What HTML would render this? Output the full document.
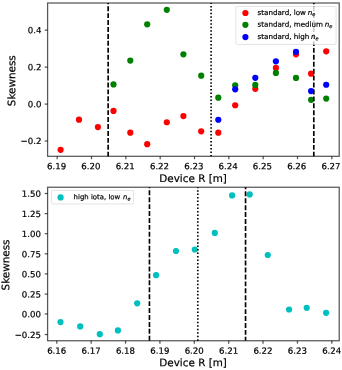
<!DOCTYPE html>
<html><head><meta charset="utf-8"><title>Skewness</title>
<style>html,body{margin:0;padding:0;background:#fff}svg{display:block;will-change:transform;opacity:0.999}text{stroke:#000;stroke-width:0.2px;font-family:"DejaVu Sans","Liberation Sans",sans-serif;fill:#000}</style></head><body>
<svg width="342" height="370" viewBox="0 0 342 370">
<rect width="342" height="370" fill="#fff"/>
<circle cx="60.6" cy="149.85" r="3.1" fill="#ff0000"/>
<circle cx="79.0" cy="119.65" r="3.1" fill="#ff0000"/>
<circle cx="97.9" cy="127.05" r="3.1" fill="#ff0000"/>
<circle cx="113.5" cy="110.95" r="3.1" fill="#ff0000"/>
<circle cx="130.3" cy="132.65" r="3.1" fill="#ff0000"/>
<circle cx="147.2" cy="144.15" r="3.1" fill="#ff0000"/>
<circle cx="166.8" cy="122.25" r="3.1" fill="#ff0000"/>
<circle cx="183.4" cy="116.05" r="3.1" fill="#ff0000"/>
<circle cx="201.2" cy="131.35" r="3.1" fill="#ff0000"/>
<circle cx="218.3" cy="132.65" r="3.1" fill="#ff0000"/>
<circle cx="235.2" cy="105.25" r="3.1" fill="#ff0000"/>
<circle cx="255.3" cy="88.85" r="3.1" fill="#ff0000"/>
<circle cx="275.9" cy="67.95" r="3.1" fill="#ff0000"/>
<circle cx="296.0" cy="54.35" r="3.1" fill="#ff0000"/>
<circle cx="311.1" cy="73.65" r="3.1" fill="#ff0000"/>
<circle cx="326.2" cy="51.35" r="3.1" fill="#ff0000"/>
<circle cx="113.5" cy="84.45" r="3.1" fill="#008000"/>
<circle cx="130.3" cy="60.55" r="3.1" fill="#008000"/>
<circle cx="147.2" cy="24.35" r="3.1" fill="#008000"/>
<circle cx="166.8" cy="9.85" r="3.1" fill="#008000"/>
<circle cx="183.4" cy="54.35" r="3.1" fill="#008000"/>
<circle cx="201.2" cy="75.65" r="3.1" fill="#008000"/>
<circle cx="218.3" cy="97.65" r="3.1" fill="#008000"/>
<circle cx="235.2" cy="85.35" r="3.1" fill="#008000"/>
<circle cx="255.3" cy="84.95" r="3.1" fill="#008000"/>
<circle cx="275.9" cy="72.95" r="3.1" fill="#008000"/>
<circle cx="296.0" cy="77.95" r="3.1" fill="#008000"/>
<circle cx="311.1" cy="99.85" r="3.1" fill="#008000"/>
<circle cx="326.2" cy="98.55" r="3.1" fill="#008000"/>
<circle cx="218.3" cy="119.75" r="3.1" fill="#0000ff"/>
<circle cx="235.2" cy="89.35" r="3.1" fill="#0000ff"/>
<circle cx="255.3" cy="77.85" r="3.1" fill="#0000ff"/>
<circle cx="275.9" cy="61.35" r="3.1" fill="#0000ff"/>
<circle cx="296.0" cy="51.85" r="3.1" fill="#0000ff"/>
<circle cx="311.1" cy="91.05" r="3.1" fill="#0000ff"/>
<circle cx="326.2" cy="84.75" r="3.1" fill="#0000ff"/>
<line x1="108.15" y1="156.3" x2="108.15" y2="3.0" stroke="#000" stroke-width="1.65" stroke-dasharray="4.95 1.98" stroke-dashoffset="0.4"/>
<line x1="211.1" y1="156.3" x2="211.1" y2="3.0" stroke="#000" stroke-width="1.65" stroke-dasharray="1.5 1.965" stroke-dashoffset="0.1"/>
<line x1="313.8" y1="156.3" x2="313.8" y2="3.0" stroke="#000" stroke-width="1.65" stroke-dasharray="4.95 1.98" stroke-dashoffset="0.5"/>
<rect x="47.6" y="3.0" width="291.59999999999997" height="153.3" fill="none" stroke="#000" stroke-opacity="0.66" stroke-width="1.25"/>
<line x1="57.2" y1="156.3" x2="57.2" y2="159.20000000000002" stroke="#000" stroke-opacity="0.66" stroke-width="1.25"/>
<text x="56.6" y="169.3" transform="rotate(0.03 56.6 169.3)" font-size="8.6" text-anchor="middle">6.19</text>
<line x1="91.53" y1="156.3" x2="91.53" y2="159.20000000000002" stroke="#000" stroke-opacity="0.66" stroke-width="1.25"/>
<text x="90.9" y="169.3" transform="rotate(0.03 90.9 169.3)" font-size="8.6" text-anchor="middle">6.20</text>
<line x1="125.86" y1="156.3" x2="125.86" y2="159.20000000000002" stroke="#000" stroke-opacity="0.66" stroke-width="1.25"/>
<text x="125.19999999999999" y="169.3" transform="rotate(0.03 125.19999999999999 169.3)" font-size="8.6" text-anchor="middle">6.21</text>
<line x1="160.19" y1="156.3" x2="160.19" y2="159.20000000000002" stroke="#000" stroke-opacity="0.66" stroke-width="1.25"/>
<text x="159.5" y="169.3" transform="rotate(0.03 159.5 169.3)" font-size="8.6" text-anchor="middle">6.22</text>
<line x1="194.51999999999998" y1="156.3" x2="194.51999999999998" y2="159.20000000000002" stroke="#000" stroke-opacity="0.66" stroke-width="1.25"/>
<text x="193.79999999999998" y="169.3" transform="rotate(0.03 193.79999999999998 169.3)" font-size="8.6" text-anchor="middle">6.23</text>
<line x1="228.84999999999997" y1="156.3" x2="228.84999999999997" y2="159.20000000000002" stroke="#000" stroke-opacity="0.66" stroke-width="1.25"/>
<text x="228.1" y="169.3" transform="rotate(0.03 228.1 169.3)" font-size="8.6" text-anchor="middle">6.24</text>
<line x1="263.18" y1="156.3" x2="263.18" y2="159.20000000000002" stroke="#000" stroke-opacity="0.66" stroke-width="1.25"/>
<text x="262.4" y="169.3" transform="rotate(0.03 262.4 169.3)" font-size="8.6" text-anchor="middle">6.25</text>
<line x1="297.51" y1="156.3" x2="297.51" y2="159.20000000000002" stroke="#000" stroke-opacity="0.66" stroke-width="1.25"/>
<text x="296.7" y="169.3" transform="rotate(0.03 296.7 169.3)" font-size="8.6" text-anchor="middle">6.26</text>
<line x1="331.84" y1="156.3" x2="331.84" y2="159.20000000000002" stroke="#000" stroke-opacity="0.66" stroke-width="1.25"/>
<text x="331.0" y="169.3" transform="rotate(0.03 331.0 169.3)" font-size="8.6" text-anchor="middle">6.27</text>
<line x1="47.6" y1="30.15" x2="44.7" y2="30.15" stroke="#000" stroke-opacity="0.66" stroke-width="1.25"/>
<text x="41.4" y="33.25" transform="rotate(0.03 41.4 33.25)" font-size="8.6" text-anchor="end">0.4</text>
<line x1="47.6" y1="67.15" x2="44.7" y2="67.15" stroke="#000" stroke-opacity="0.66" stroke-width="1.25"/>
<text x="41.4" y="70.25" transform="rotate(0.03 41.4 70.25)" font-size="8.6" text-anchor="end">0.2</text>
<line x1="47.6" y1="104.1" x2="44.7" y2="104.1" stroke="#000" stroke-opacity="0.66" stroke-width="1.25"/>
<text x="41.4" y="107.19999999999999" transform="rotate(0.03 41.4 107.19999999999999)" font-size="8.6" text-anchor="end">0.0</text>
<line x1="47.6" y1="141.0" x2="44.7" y2="141.0" stroke="#000" stroke-opacity="0.66" stroke-width="1.25"/>
<text x="41.4" y="144.1" transform="rotate(0.03 41.4 144.1)" font-size="8.6" text-anchor="end">−0.2</text>
<text x="193.1" y="182.10000000000002" transform="rotate(0.03 193.1 182.10000000000002)" font-size="10.4" text-anchor="middle">Device R [m]</text>
<text transform="translate(15.2,80.7) rotate(-89.97)" font-size="10.4" text-anchor="middle">Skewness</text>
<rect x="235.8" y="6.5" width="100.3" height="37.9" rx="1.6" fill="#fff" fill-opacity="0.8" stroke="#ccc" stroke-opacity="0.8" stroke-width="0.7"/>
<circle cx="245.4" cy="13.0" r="3.1" fill="#ff0000"/>
<text x="257.5" y="14.9" transform="rotate(0.03 257.5 14.9)" font-size="7.15" stroke="none">standard, low <tspan font-style="italic" dx="-0.55">n</tspan><tspan font-style="italic" font-size="5.005" dy="1.2">e</tspan></text>
<circle cx="245.4" cy="24.8" r="3.1" fill="#008000"/>
<text x="257.5" y="26.7" transform="rotate(0.03 257.5 26.7)" font-size="7.15" stroke="none">standard, medium <tspan font-style="italic" dx="-0.55">n</tspan><tspan font-style="italic" font-size="5.005" dy="1.2">e</tspan></text>
<circle cx="245.4" cy="37.1" r="3.1" fill="#0000ff"/>
<text x="257.5" y="39.0" transform="rotate(0.03 257.5 39.0)" font-size="7.15" stroke="none">standard, high <tspan font-style="italic" dx="-0.55">n</tspan><tspan font-style="italic" font-size="5.005" dy="1.2">e</tspan></text>
<circle cx="60.5" cy="322.1" r="3.1" fill="#00bfbf"/>
<circle cx="80.2" cy="326.4" r="3.1" fill="#00bfbf"/>
<circle cx="99.8" cy="334.2" r="3.1" fill="#00bfbf"/>
<circle cx="117.9" cy="330.4" r="3.1" fill="#00bfbf"/>
<circle cx="137.2" cy="303.3" r="3.1" fill="#00bfbf"/>
<circle cx="156.1" cy="275.2" r="3.1" fill="#00bfbf"/>
<circle cx="176.0" cy="251.0" r="3.1" fill="#00bfbf"/>
<circle cx="194.8" cy="249.5" r="3.1" fill="#00bfbf"/>
<circle cx="214.8" cy="232.9" r="3.1" fill="#00bfbf"/>
<circle cx="232.1" cy="195.4" r="3.1" fill="#00bfbf"/>
<circle cx="249.7" cy="194.4" r="3.1" fill="#00bfbf"/>
<circle cx="267.8" cy="255.0" r="3.1" fill="#00bfbf"/>
<circle cx="289.1" cy="309.5" r="3.1" fill="#00bfbf"/>
<circle cx="306.7" cy="307.8" r="3.1" fill="#00bfbf"/>
<circle cx="326.1" cy="312.8" r="3.1" fill="#00bfbf"/>
<line x1="149.45" y1="340.75" x2="149.45" y2="187.25" stroke="#000" stroke-width="1.65" stroke-dasharray="4.95 1.98" stroke-dashoffset="0.0"/>
<line x1="197.8" y1="340.75" x2="197.8" y2="187.25" stroke="#000" stroke-width="1.65" stroke-dasharray="1.5 1.965" stroke-dashoffset="-0.1"/>
<line x1="245.55" y1="340.75" x2="245.55" y2="187.25" stroke="#000" stroke-width="1.65" stroke-dasharray="4.95 1.98" stroke-dashoffset="1.05"/>
<rect x="47.6" y="187.25" width="291.59999999999997" height="153.5" fill="none" stroke="#000" stroke-opacity="0.66" stroke-width="1.25"/>
<line x1="56.8" y1="340.75" x2="56.8" y2="343.65" stroke="#000" stroke-opacity="0.66" stroke-width="1.25"/>
<text x="56.7" y="353.75" transform="rotate(0.03 56.7 353.75)" font-size="8.6" text-anchor="middle">6.16</text>
<line x1="91.175" y1="340.75" x2="91.175" y2="343.65" stroke="#000" stroke-opacity="0.66" stroke-width="1.25"/>
<text x="91.08000000000001" y="353.75" transform="rotate(0.03 91.08000000000001 353.75)" font-size="8.6" text-anchor="middle">6.17</text>
<line x1="125.55" y1="340.75" x2="125.55" y2="343.65" stroke="#000" stroke-opacity="0.66" stroke-width="1.25"/>
<text x="125.46000000000001" y="353.75" transform="rotate(0.03 125.46000000000001 353.75)" font-size="8.6" text-anchor="middle">6.18</text>
<line x1="159.925" y1="340.75" x2="159.925" y2="343.65" stroke="#000" stroke-opacity="0.66" stroke-width="1.25"/>
<text x="159.84000000000003" y="353.75" transform="rotate(0.03 159.84000000000003 353.75)" font-size="8.6" text-anchor="middle">6.19</text>
<line x1="194.3" y1="340.75" x2="194.3" y2="343.65" stroke="#000" stroke-opacity="0.66" stroke-width="1.25"/>
<text x="194.22000000000003" y="353.75" transform="rotate(0.03 194.22000000000003 353.75)" font-size="8.6" text-anchor="middle">6.20</text>
<line x1="228.675" y1="340.75" x2="228.675" y2="343.65" stroke="#000" stroke-opacity="0.66" stroke-width="1.25"/>
<text x="228.60000000000002" y="353.75" transform="rotate(0.03 228.60000000000002 353.75)" font-size="8.6" text-anchor="middle">6.21</text>
<line x1="263.05" y1="340.75" x2="263.05" y2="343.65" stroke="#000" stroke-opacity="0.66" stroke-width="1.25"/>
<text x="262.98" y="353.75" transform="rotate(0.03 262.98 353.75)" font-size="8.6" text-anchor="middle">6.22</text>
<line x1="297.425" y1="340.75" x2="297.425" y2="343.65" stroke="#000" stroke-opacity="0.66" stroke-width="1.25"/>
<text x="297.36" y="353.75" transform="rotate(0.03 297.36 353.75)" font-size="8.6" text-anchor="middle">6.23</text>
<line x1="331.8" y1="340.75" x2="331.8" y2="343.65" stroke="#000" stroke-opacity="0.66" stroke-width="1.25"/>
<text x="331.74" y="353.75" transform="rotate(0.03 331.74 353.75)" font-size="8.6" text-anchor="middle">6.24</text>
<line x1="47.6" y1="193.5" x2="44.7" y2="193.5" stroke="#000" stroke-opacity="0.66" stroke-width="1.25"/>
<text x="41.0" y="196.85" transform="rotate(0.03 41.0 196.85)" font-size="8.6" text-anchor="end">1.50</text>
<line x1="47.6" y1="213.6" x2="44.7" y2="213.6" stroke="#000" stroke-opacity="0.66" stroke-width="1.25"/>
<text x="41.0" y="216.95" transform="rotate(0.03 41.0 216.95)" font-size="8.6" text-anchor="end">1.25</text>
<line x1="47.6" y1="233.7" x2="44.7" y2="233.7" stroke="#000" stroke-opacity="0.66" stroke-width="1.25"/>
<text x="41.0" y="237.04999999999998" transform="rotate(0.03 41.0 237.04999999999998)" font-size="8.6" text-anchor="end">1.00</text>
<line x1="47.6" y1="253.8" x2="44.7" y2="253.8" stroke="#000" stroke-opacity="0.66" stroke-width="1.25"/>
<text x="41.0" y="257.15000000000003" transform="rotate(0.03 41.0 257.15000000000003)" font-size="8.6" text-anchor="end">0.75</text>
<line x1="47.6" y1="273.9" x2="44.7" y2="273.9" stroke="#000" stroke-opacity="0.66" stroke-width="1.25"/>
<text x="41.0" y="277.25" transform="rotate(0.03 41.0 277.25)" font-size="8.6" text-anchor="end">0.50</text>
<line x1="47.6" y1="294.1" x2="44.7" y2="294.1" stroke="#000" stroke-opacity="0.66" stroke-width="1.25"/>
<text x="41.0" y="297.45000000000005" transform="rotate(0.03 41.0 297.45000000000005)" font-size="8.6" text-anchor="end">0.25</text>
<line x1="47.6" y1="313.95" x2="44.7" y2="313.95" stroke="#000" stroke-opacity="0.66" stroke-width="1.25"/>
<text x="41.0" y="317.3" transform="rotate(0.03 41.0 317.3)" font-size="8.6" text-anchor="end">0.00</text>
<line x1="47.6" y1="334.55" x2="44.7" y2="334.55" stroke="#000" stroke-opacity="0.66" stroke-width="1.25"/>
<text x="41.0" y="337.90000000000003" transform="rotate(0.03 41.0 337.90000000000003)" font-size="8.6" text-anchor="end">−0.25</text>
<text x="193.1" y="366.3" transform="rotate(0.03 193.1 366.3)" font-size="10.4" text-anchor="middle">Device R [m]</text>
<text transform="translate(9.2,265.0) rotate(-89.97)" font-size="10.4" text-anchor="middle">Skewness</text>
<rect x="51.4" y="190.4" width="82.2" height="13.5" rx="1.6" fill="#fff" fill-opacity="0.8" stroke="#ccc" stroke-opacity="0.8" stroke-width="0.7"/>
<circle cx="60.599999999999994" cy="197.4" r="3.1" fill="#00bfbf"/>
<text x="73.6" y="199.3" transform="rotate(0.03 73.6 199.3)" font-size="6.93" stroke="none">high iota, low <tspan font-style="italic" dx="0.6">n</tspan><tspan font-style="italic" font-size="4.850999999999999" dy="1.2">e</tspan></text>
</svg></body></html>
